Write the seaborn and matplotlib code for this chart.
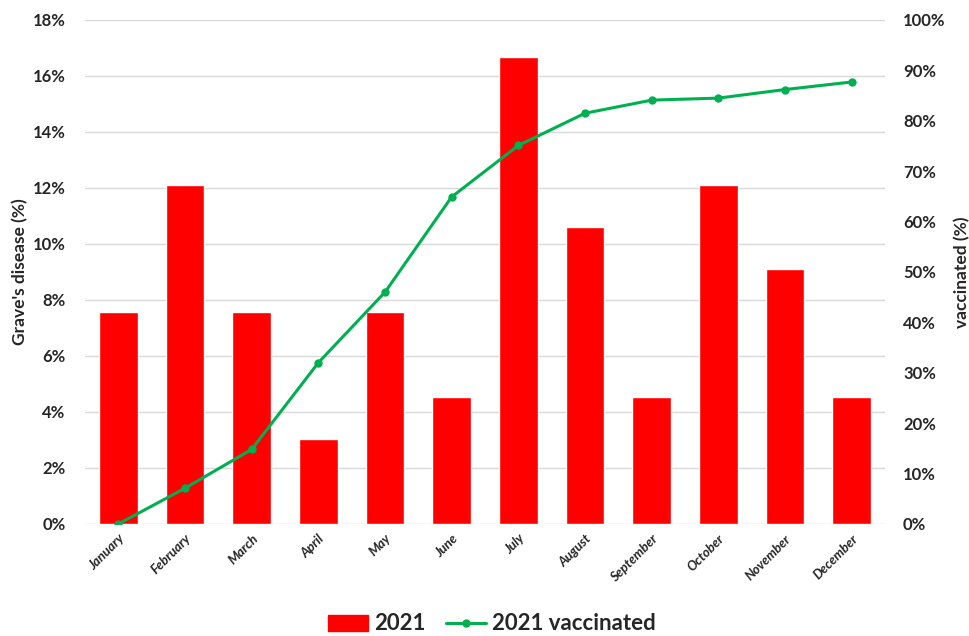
import matplotlib
matplotlib.use("Agg")
import matplotlib.pyplot as plt
import seaborn as sns
import numpy as np
import pandas as pd
from matplotlib.patches import Patch
from matplotlib.lines import Line2D
from matplotlib.ticker import PercentFormatter, MultipleLocator

months = ["January", "February", "March", "April", "May", "June", "July",
          "August", "September", "October", "November", "December"]
graves_pct = [7.58, 12.12, 7.58, 3.03, 7.58, 4.55, 16.67, 10.61, 4.55, 12.12, 9.09, 4.55]
vaccinated_pct = [0.0, 7.1, 14.8, 32.0, 46.0, 64.9, 75.1, 81.5, 84.1, 84.5, 86.2, 87.7]
bar_label = "2021"
line_label = "2021 vaccinated"

RED = "#FF0000"
GREEN = "#00B050"

sns.set_theme(style="white")
plt.rcParams["font.family"] = ["Lato", "DejaVu Sans"]

df = pd.DataFrame({"month": months, "graves": graves_pct, "vacc": vaccinated_pct})

fig = plt.figure(figsize=(9.7, 6.36), dpi=100)
ax = fig.add_axes([85 / 970, 1 - 524 / 636, 800 / 970, 504 / 636])

sns.barplot(data=df, x="month", y="graves", color=RED, width=0.58,
            saturation=1, ax=ax, zorder=2)
ax.set_ylim(0, 18)
ax.set_xlim(-0.5, len(months) - 0.5)
ax.yaxis.set_major_locator(MultipleLocator(2))
ax.yaxis.set_major_formatter(PercentFormatter(decimals=0))
ax.grid(axis="y", color="#d9d9d9", linewidth=1, zorder=0)
ax.set_axisbelow(True)
for s in ax.spines.values():
    s.set_visible(False)
ax.set_xlabel("")
ax.set_ylabel("Grave's disease (%)", fontsize=12.5, fontweight="bold",
              ha="center", va="center")
ax.yaxis.set_label_coords(-0.081, 0.5)
ax.tick_params(axis="y", length=0, labelsize=12, pad=14)
ax.tick_params(axis="x", length=0, pad=6)
for lbl in ax.get_yticklabels():
    lbl.set_fontweight("bold")
ax.set_xticks(range(len(months)))
ax.set_xticklabels(months, rotation=45, ha="right", rotation_mode="anchor",
                   fontsize=9.5, fontweight="bold", fontstyle="italic")

ax2 = ax.twinx()
sns.lineplot(x=np.arange(len(months)), y=df["vacc"], color=GREEN, linewidth=2.2,
             marker="o", markersize=6, markeredgewidth=0, ax=ax2)
ax2.set_ylim(0, 100)
ax2.yaxis.set_major_locator(MultipleLocator(10))
ax2.yaxis.set_major_formatter(PercentFormatter(decimals=0))
for s in ax2.spines.values():
    s.set_visible(False)
ax2.set_ylabel("vaccinated (%)", fontsize=12.5, fontweight="bold", rotation=90,
               ha="center", va="center")
ax2.yaxis.set_label_coords(1.0963, 0.5)
ax2.tick_params(axis="y", length=0, labelsize=12, pad=13)
for lbl in ax2.get_yticklabels():
    lbl.set_fontweight("bold")
ax2.grid(False)
ax2.set_xlim(-0.5, len(months) - 0.5)

handles = [Patch(facecolor=RED, edgecolor=RED, label=bar_label),
           Line2D([0], [0], color=GREEN, linewidth=2.2, marker="o", markersize=5,
                  label=line_label)]
fig.legend(handles=handles, loc="center", bbox_to_anchor=(492 / 970, 1 - 624 / 636),
           ncol=2, frameon=False, prop={"size": 16, "weight": "bold"},
           handlelength=1.8, handletextpad=0.3, columnspacing=0.9)

fig.savefig("out.png", dpi=100)
